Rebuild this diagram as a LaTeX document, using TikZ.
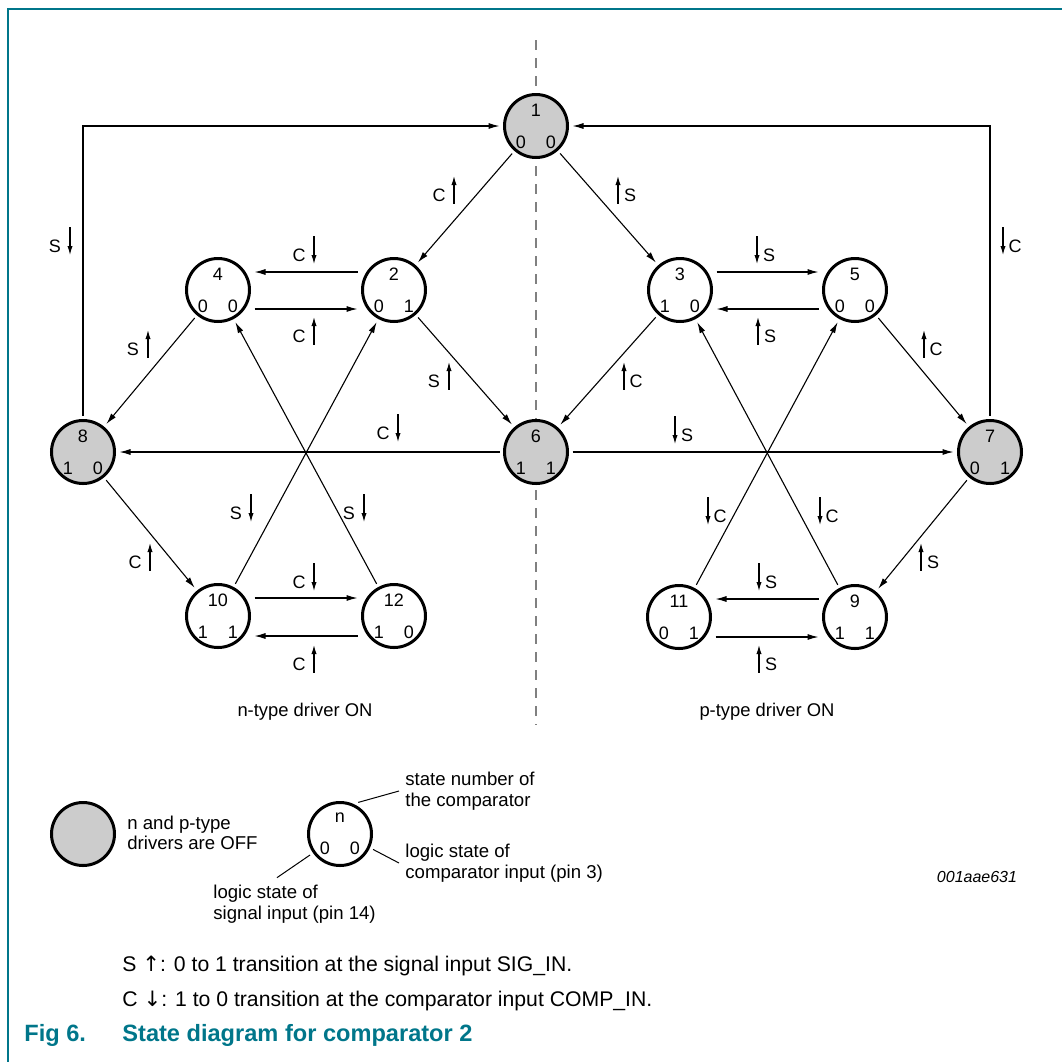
\documentclass[tikz,border=0pt]{standalone}
\usepackage{fontspec}
\setmainfont{Liberation Sans}
\newfontfamily\fleches{DejaVu Sans}
\usetikzlibrary{arrows.meta}
\definecolor{etatgris}{RGB}{204,204,204}
\definecolor{nxpteal}{RGB}{0,118,138}
% repere de transition : lettre a gauche / a droite de la petite fleche
\newcommand{\reperG}[5]{\node[lettre] (#1) at (#2-15,#3+5) {#4};
  \draw[#5] (#2,#3-14) -- (#2,#3+14);}
\newcommand{\reperD}[5]{\node[lettre] (#1) at (#2+12,#3+5) {#4};
  \draw[#5] (#2,#3-14) -- (#2,#3+14);}
\begin{document}
\begin{tikzpicture}[x=0.5pt,y=-0.5pt,>={Latex[length=4.5pt,width=2.6pt]}]
  \tikzstyle{etat}=[circle,draw,line width=1.5pt,minimum size=31.5pt,inner sep=0pt,outer sep=2.5pt,fill=white,align=center,font=\fontsize{9}{16}\selectfont]
  \tikzstyle{off}=[etat,fill=etatgris]
  \tikzstyle{fleche}=[-{Latex[length=5.5pt,width=3pt]},line width=0.55pt]
  \tikzstyle{haut}=[<-,line width=0.55pt]
  \tikzstyle{bas}=[->,line width=0.55pt]
  \tikzstyle{lettre}=[inner sep=0pt,font=\fontsize{9}{10}\selectfont]
  \tikzstyle{legende}=[inner sep=0pt,anchor=west,align=left,font=\fontsize{9.3}{10.3}\selectfont]
  \useasboundingbox (0,0) rectangle (1062,1062);
  \draw[nxpteal,line width=1pt] (8,1062) -- (8,9) -- (1062,9);
  \draw[gray,line width=1pt,dash pattern=on 5pt off 4pt] (536,40) -- (536,725);
  % etats
  \node[off]  (e1)  at (536,126) {1\\0\hspace{10pt}0};
  \node[etat] (e2)  at (394,290) {2\\0\hspace{10pt}1};
  \node[etat] (e3)  at (680,290) {3\\1\hspace{10pt}0};
  \node[etat] (e4)  at (218,290) {4\\0\hspace{10pt}0};
  \node[etat] (e5)  at (855,290) {5\\0\hspace{10pt}0};
  \node[off]  (e6)  at (536,452) {6\\1\hspace{10pt}1};
  \node[off]  (e7)  at (990,452) {7\\0\hspace{10pt}1};
  \node[off]  (e8)  at (83,452)  {8\\1\hspace{10pt}0};
  \node[etat] (e9)  at (855,617) {9\\1\hspace{10pt}1};
  \node[etat] (e10) at (218,616) {10\\1\hspace{10pt}1};
  \node[etat] (e11) at (679,617) {11\\0\hspace{10pt}1};
  \node[etat] (e12) at (394,616) {12\\1\hspace{10pt}0};
  % transitions
  \draw[fleche] (e1) -- (e2);
  \draw[fleche] (e1) -- (e3);
  \draw[fleche] (e8.north) |- (e1.west);
  \draw[fleche] (e7.north) |- (e1.east);
  \draw[fleche] ([yshift=9pt]e2.west) -- ([yshift=9pt]e4.east);
  \draw[fleche] ([yshift=-9.5pt]e4.east) -- ([yshift=-9.5pt]e2.west);
  \draw[fleche] ([yshift=9pt]e3.east) -- ([yshift=9pt]e5.west);
  \draw[fleche] ([yshift=-9.5pt]e5.west) -- ([yshift=-9.5pt]e3.east);
  \draw[fleche] (e4) -- (e8);
  \draw[fleche] (e2) -- (e6);
  \draw[fleche] (e3) -- (e6);
  \draw[fleche] (e5) -- (e7);
  \draw[fleche] (e6) -- (e8);
  \draw[fleche] (e6) -- (e7);
  \draw[fleche] (e8) -- (e10);
  \draw[fleche] (e7) -- (e9);
  \draw[fleche] (e10) -- (e2);
  \draw[fleche] (e12) -- (e4);
  \draw[fleche] (e11) -- (e5);
  \draw[fleche] (e9) -- (e3);
  \draw[fleche] ([yshift=9pt]e10.east) -- ([yshift=9pt]e12.west);
  \draw[fleche] ([yshift=-10pt]e12.west) -- ([yshift=-10pt]e10.east);
  \draw[fleche] ([yshift=9pt]e9.west) -- ([yshift=9pt]e11.east);
  \draw[fleche] ([yshift=-10pt]e11.east) -- ([yshift=-10pt]e9.west);
  % reperes S / C
  \reperG{r12}{454}{190}{C}{haut}
  \reperD{r13}{618}{190}{S}{haut}
  \reperG{r81}{70}{241}{S}{bas}
  \reperD{r71}{1003}{241}{C}{bas}
  \reperG{r24}{314}{250}{C}{bas}
  \reperG{r42}{314}{331}{C}{haut}
  \reperD{r35}{757}{250}{S}{bas}
  \reperD{r53}{758}{331}{S}{haut}
  \reperG{r48}{148}{344}{S}{haut}
  \reperG{r26}{449}{376}{S}{haut}
  \reperD{r36}{624}{376}{C}{haut}
  \reperD{r57}{924}{344}{C}{haut}
  \reperG{r68}{398}{428}{C}{bas}
  \reperD{r67}{675}{430}{S}{bas}
  \reperG{r810}{150}{557}{C}{haut}
  \reperG{r102}{251}{508}{S}{bas}
  \reperG{r124}{364}{508}{S}{bas}
  \reperG{r1012}{314}{577}{C}{bas}
  \reperG{r1210}{314}{659}{C}{haut}
  \reperD{r115}{708}{511}{C}{bas}
  \reperD{r93}{820}{511}{C}{bas}
  \reperD{r79}{921}{557}{S}{haut}
  \reperD{r911}{759}{577}{S}{bas}
  \reperD{r119}{759}{659}{S}{haut}
  \node[font=\fontsize{9.2}{11}\selectfont] (ntype) at (305,712) {n-type driver ON};
  \node[font=\fontsize{9.2}{11}\selectfont] (ptype) at (767,712) {p-type driver ON};
  % legende
  \node[off] (lgris) at (83,834) {};
  \node[legende] (lgristxt) at (127,833) {n and p-type\\drivers are OFF};
  \node[etat] (lex) at (340,834) {n\\0\hspace{10pt}0};
  \node[legende] (lnum) at (405,791) {state number of\\the comparator};
  \node[legende] (lcomp) at (405,863) {logic state of\\comparator input (pin 3)};
  \node[legende] (lsig) at (213,904) {logic state of\\signal input (pin 14)};
  \draw[line width=0.5pt] (lex.60) -- ([xshift=-3pt]lnum.west);
  \draw[line width=0.5pt] (lex.-25) -- ([xshift=-3pt]lcomp.west);
  \draw[line width=0.5pt] (lex.215) -- ([shift={(32pt,3.5pt)}]lsig.north west);
  \node[inner sep=0pt,font=\itshape\fontsize{8}{10}\selectfont] (code) at (977,877) {001aae631};
  \node[inner sep=0pt,anchor=west,font=\fontsize{10.6}{12}\selectfont] (defs) at (122,966) {S {\fleches ↑}: 0 to 1 transition at the signal input SIG\_IN.};
  \node[inner sep=0pt,anchor=west,font=\fontsize{10.6}{12}\selectfont] (defc) at (122,1001) {C {\fleches ↓}: 1 to 0 transition at the comparator input COMP\_IN.};
  \node[inner sep=0pt,anchor=west,text=nxpteal,font=\bfseries\fontsize{11.8}{14}\selectfont] (fig) at (24,1035) {Fig 6.};
  \node[inner sep=0pt,anchor=west,text=nxpteal,font=\bfseries\fontsize{11.8}{14}\selectfont] (titre) at (122,1035) {State diagram for comparator 2};
\end{tikzpicture}
\end{document}
